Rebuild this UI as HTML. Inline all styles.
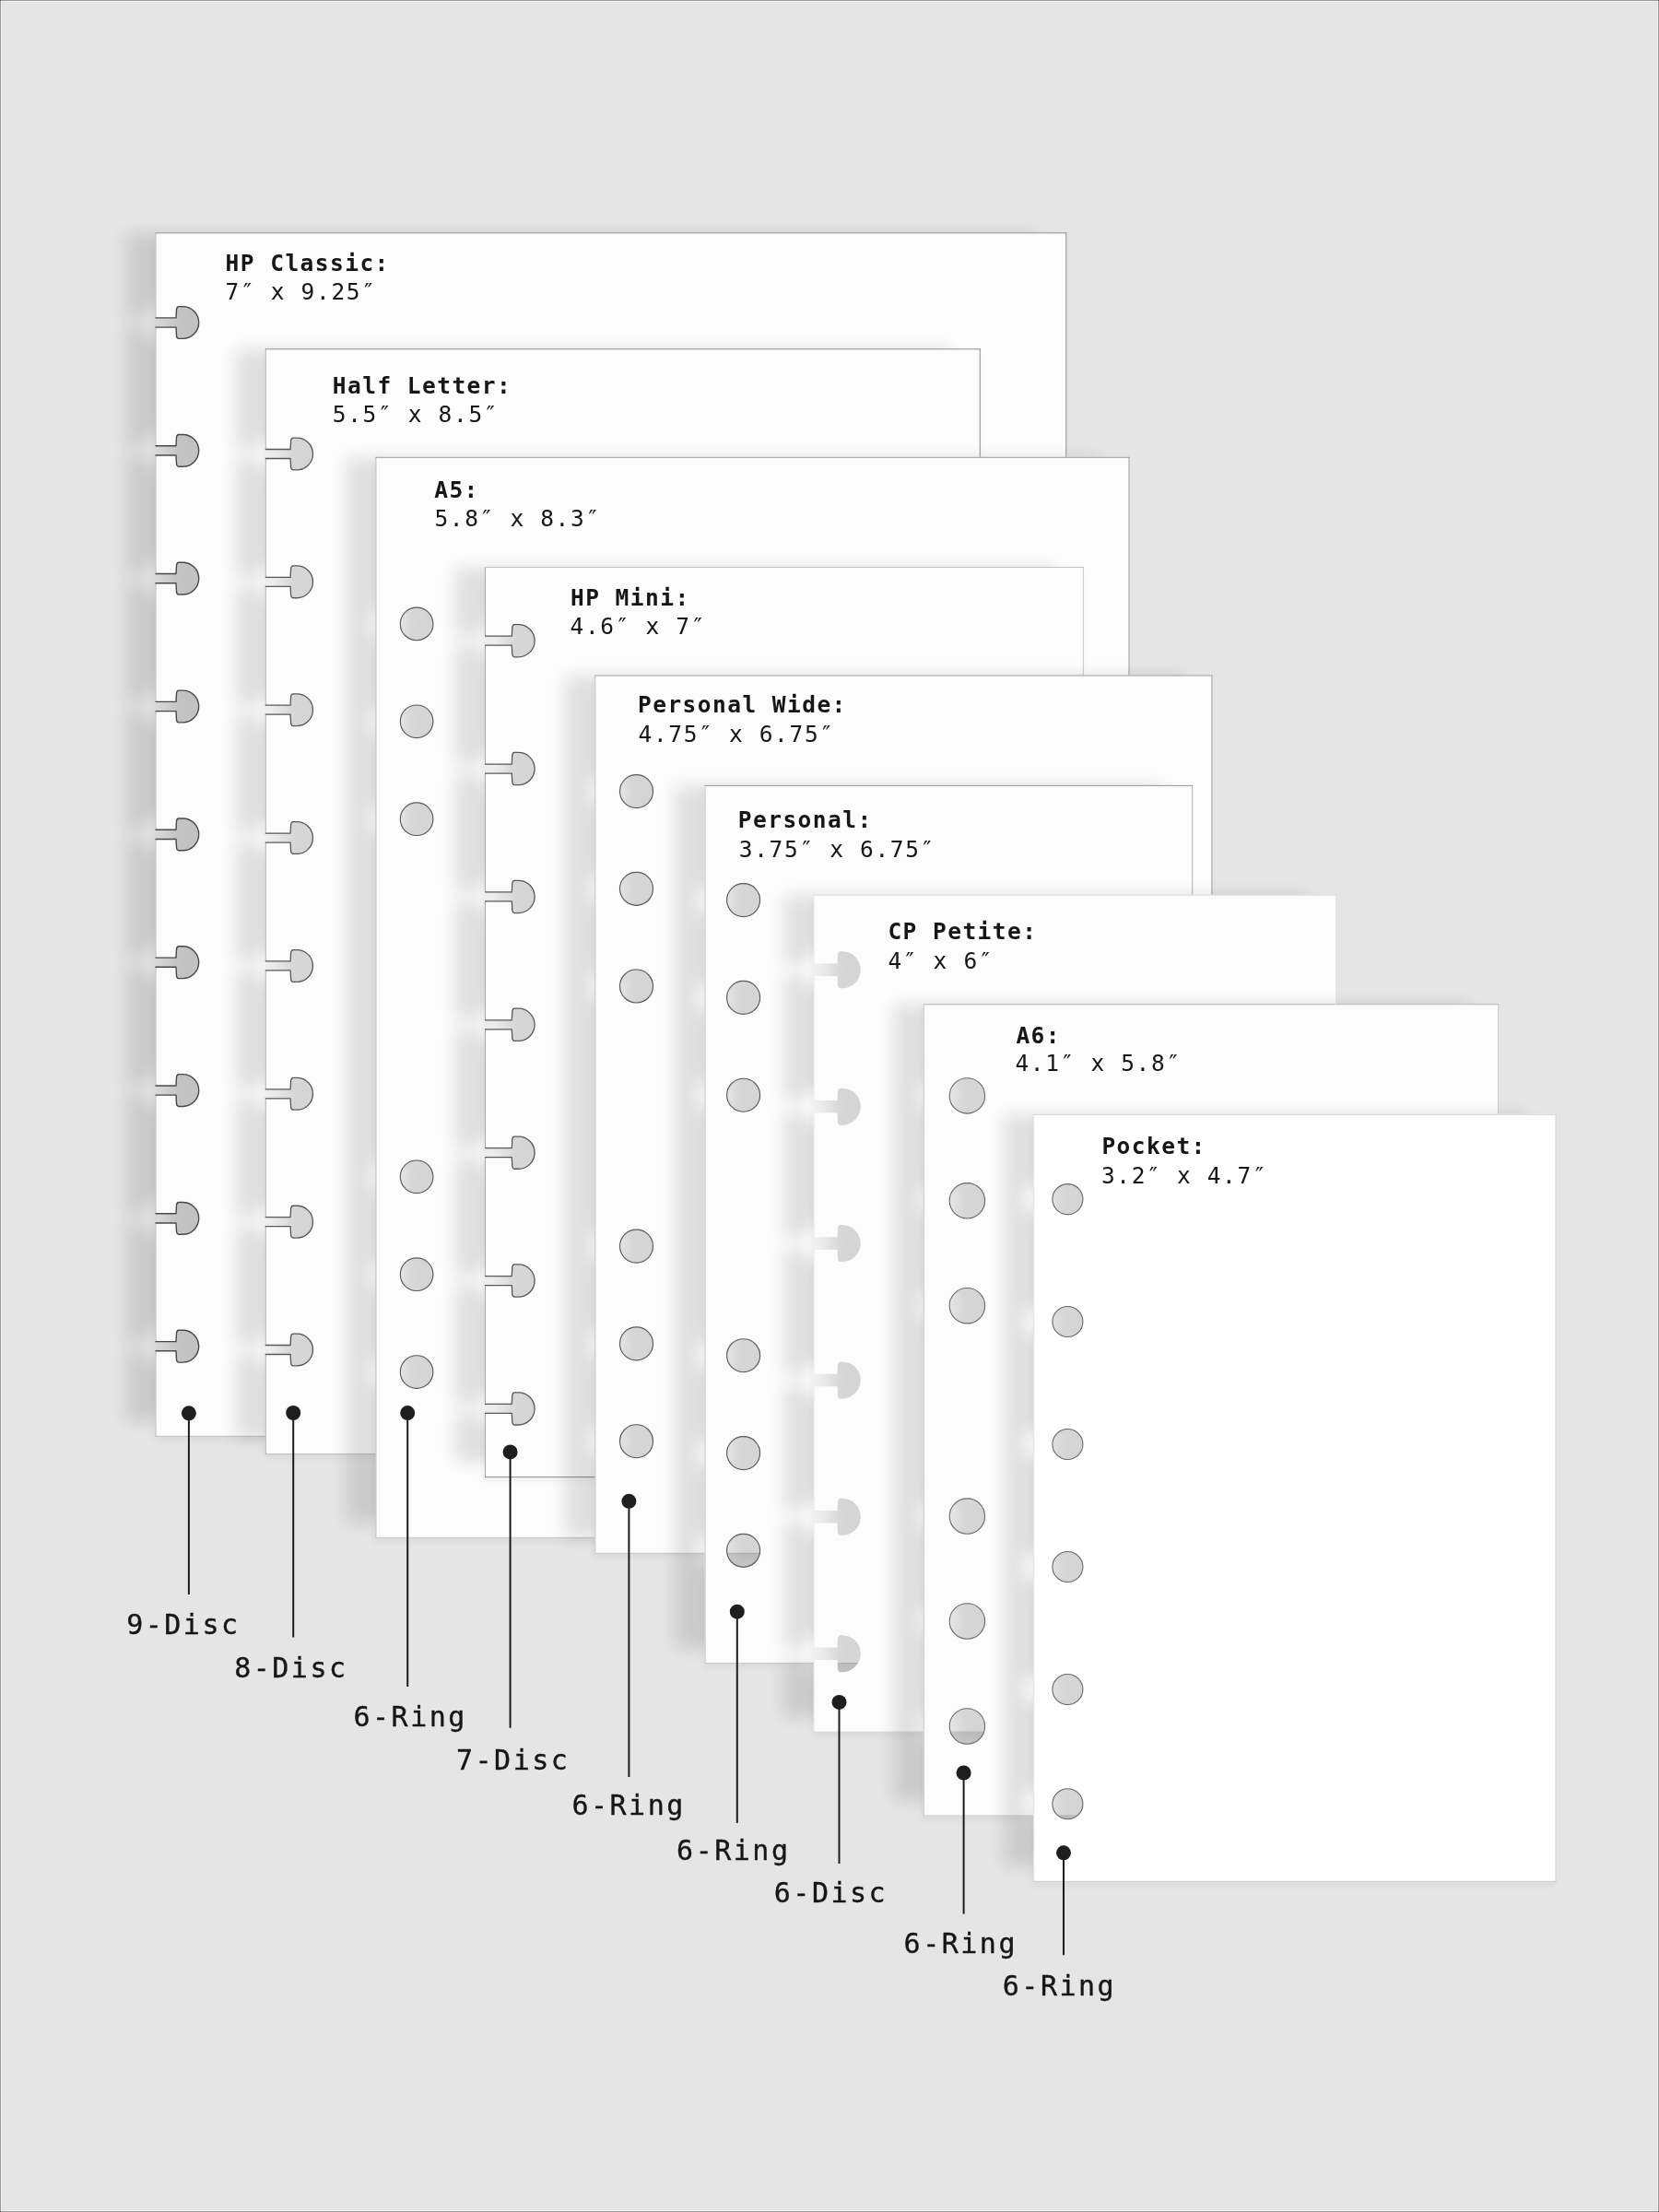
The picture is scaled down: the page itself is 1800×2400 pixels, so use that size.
<!DOCTYPE html>
<html lang="en"><head><meta charset="utf-8"><title>Planner insert sizes</title>
<style>
html,body{margin:0;padding:0;background:#e5e5e5;}
body{width:1800px;height:2400px;overflow:hidden;position:relative;}
svg{position:absolute;left:0;top:0;display:block;will-change:transform;}
text{font-family:'DejaVu Sans Mono','Liberation Mono',monospace;fill:#161616;white-space:pre;}
.t{font-size:24.5px;letter-spacing:1.65px;}
.b{font-weight:bold;letter-spacing:1.45px;}
.l{font-size:30px;letter-spacing:2.5px;stroke:#161616;stroke-width:0.35px;}
</style></head><body>
<svg width="1800" height="2400" viewBox="0 0 1800 2400" role="img" aria-label="Planner insert page sizes and punch patterns">
<defs>
<filter id="sh" filterUnits="userSpaceOnUse" x="0" y="0" width="1800" height="2400"><feGaussianBlur stdDeviation="9"/></filter>
<filter id="am" filterUnits="userSpaceOnUse" x="0" y="0" width="1800" height="2400"><feGaussianBlur stdDeviation="3.5"/></filter>
</defs>
<rect x="0" y="0" width="1800" height="2400" fill="#e5e5e5"/>
<g id="sheet1">
<rect x="166.5" y="254.3" width="988.8" height="1309" fill="#000" opacity="0.04" filter="url(#am)"/>
<path d="M1157.3 253.3 L168.5 253.3 L168.5 344.9 L191 344.9 L191.5 335.6 Q191.8 332.9 193.9 332.6 L198.3 332.6 A17.4 17.4 0 0 1 198.3 367.4 L193.9 367.4 Q191.8 367.1 191.5 364.4 L191 355.1 L168.5 355.1 L168.5 483.74 L191 483.74 L191.5 474.44 Q191.8 471.74 193.9 471.44 L198.3 471.44 A17.4 17.4 0 0 1 198.3 506.24 L193.9 506.24 Q191.8 505.94 191.5 503.24 L191 493.94 L168.5 493.94 L168.5 622.57 L191 622.57 L191.5 613.27 Q191.8 610.57 193.9 610.27 L198.3 610.27 A17.4 17.4 0 0 1 198.3 645.07 L193.9 645.07 Q191.8 644.77 191.5 642.07 L191 632.77 L168.5 632.77 L168.5 761.41 L191 761.41 L191.5 752.11 Q191.8 749.41 193.9 749.11 L198.3 749.11 A17.4 17.4 0 0 1 198.3 783.91 L193.9 783.91 Q191.8 783.61 191.5 780.91 L191 771.61 L168.5 771.61 L168.5 900.25 L191 900.25 L191.5 890.95 Q191.8 888.25 193.9 887.95 L198.3 887.95 A17.4 17.4 0 0 1 198.3 922.75 L193.9 922.75 Q191.8 922.45 191.5 919.75 L191 910.45 L168.5 910.45 L168.5 1039.09 L191 1039.09 L191.5 1029.79 Q191.8 1027.09 193.9 1026.79 L198.3 1026.79 A17.4 17.4 0 0 1 198.3 1061.59 L193.9 1061.59 Q191.8 1061.29 191.5 1058.59 L191 1049.29 L168.5 1049.29 L168.5 1177.93 L191 1177.93 L191.5 1168.62 Q191.8 1165.92 193.9 1165.62 L198.3 1165.62 A17.4 17.4 0 0 1 198.3 1200.43 L193.9 1200.43 Q191.8 1200.13 191.5 1197.43 L191 1188.12 L168.5 1188.12 L168.5 1316.76 L191 1316.76 L191.5 1307.46 Q191.8 1304.76 193.9 1304.46 L198.3 1304.46 A17.4 17.4 0 0 1 198.3 1339.26 L193.9 1339.26 Q191.8 1338.96 191.5 1336.26 L191 1326.96 L168.5 1326.96 L168.5 1455.6 L191 1455.6 L191.5 1446.3 Q191.8 1443.6 193.9 1443.3 L198.3 1443.3 A17.4 17.4 0 0 1 198.3 1478.1 L193.9 1478.1 Q191.8 1477.8 191.5 1475.1 L191 1465.8 L168.5 1465.8 L168.5 1541.8 L1157.3 1541.8 Z" transform="translate(-32 0)" fill="#000" fill-rule="evenodd" opacity="0.11" filter="url(#sh)"/>
<path d="M1157.3 252.3 L168.5 252.3 L168.5 344.9 L191 344.9 L191.5 335.6 Q191.8 332.9 193.9 332.6 L198.3 332.6 A17.4 17.4 0 0 1 198.3 367.4 L193.9 367.4 Q191.8 367.1 191.5 364.4 L191 355.1 L168.5 355.1 L168.5 483.74 L191 483.74 L191.5 474.44 Q191.8 471.74 193.9 471.44 L198.3 471.44 A17.4 17.4 0 0 1 198.3 506.24 L193.9 506.24 Q191.8 505.94 191.5 503.24 L191 493.94 L168.5 493.94 L168.5 622.57 L191 622.57 L191.5 613.27 Q191.8 610.57 193.9 610.27 L198.3 610.27 A17.4 17.4 0 0 1 198.3 645.07 L193.9 645.07 Q191.8 644.77 191.5 642.07 L191 632.77 L168.5 632.77 L168.5 761.41 L191 761.41 L191.5 752.11 Q191.8 749.41 193.9 749.11 L198.3 749.11 A17.4 17.4 0 0 1 198.3 783.91 L193.9 783.91 Q191.8 783.61 191.5 780.91 L191 771.61 L168.5 771.61 L168.5 900.25 L191 900.25 L191.5 890.95 Q191.8 888.25 193.9 887.95 L198.3 887.95 A17.4 17.4 0 0 1 198.3 922.75 L193.9 922.75 Q191.8 922.45 191.5 919.75 L191 910.45 L168.5 910.45 L168.5 1039.09 L191 1039.09 L191.5 1029.79 Q191.8 1027.09 193.9 1026.79 L198.3 1026.79 A17.4 17.4 0 0 1 198.3 1061.59 L193.9 1061.59 Q191.8 1061.29 191.5 1058.59 L191 1049.29 L168.5 1049.29 L168.5 1177.93 L191 1177.93 L191.5 1168.62 Q191.8 1165.92 193.9 1165.62 L198.3 1165.62 A17.4 17.4 0 0 1 198.3 1200.43 L193.9 1200.43 Q191.8 1200.13 191.5 1197.43 L191 1188.12 L168.5 1188.12 L168.5 1316.76 L191 1316.76 L191.5 1307.46 Q191.8 1304.76 193.9 1304.46 L198.3 1304.46 A17.4 17.4 0 0 1 198.3 1339.26 L193.9 1339.26 Q191.8 1338.96 191.5 1336.26 L191 1326.96 L168.5 1326.96 L168.5 1455.6 L191 1455.6 L191.5 1446.3 Q191.8 1443.6 193.9 1443.3 L198.3 1443.3 A17.4 17.4 0 0 1 198.3 1478.1 L193.9 1478.1 Q191.8 1477.8 191.5 1475.1 L191 1465.8 L168.5 1465.8 L168.5 1558.8 L1157.3 1558.8 Z" fill="#fcfcfc" fill-rule="evenodd"/>
<path d="M169 252.3 V344.9 M169 355.1 V483.74 M169 493.94 V622.57 M169 632.77 V761.41 M169 771.61 V900.25 M169 910.45 V1039.09 M169 1049.29 V1177.93 M169 1188.12 V1316.76 M169 1326.96 V1455.6 M169 1465.8 V1558.8" fill="none" stroke="#b4b4b4" stroke-width="1"/>
<path d="M168.5 1558.3 H1157.3" fill="none" stroke="#bdbdbd" stroke-width="1"/>
<path d="M1156.8 252.3 V1558.8" fill="none" stroke="#8e8e8e" stroke-width="1"/>
<path d="M168.5 252.8 H1157.3" fill="none" stroke="#8e8e8e" stroke-width="1"/>
<path d="M168.5 344.9 L191 344.9 L191.5 335.6 Q191.8 332.9 193.9 332.6 L198.3 332.6 A17.4 17.4 0 0 1 198.3 367.4 L193.9 367.4 Q191.8 367.1 191.5 364.4 L191 355.1 L168.5 355.1 M168.5 483.74 L191 483.74 L191.5 474.44 Q191.8 471.74 193.9 471.44 L198.3 471.44 A17.4 17.4 0 0 1 198.3 506.24 L193.9 506.24 Q191.8 505.94 191.5 503.24 L191 493.94 L168.5 493.94 M168.5 622.57 L191 622.57 L191.5 613.27 Q191.8 610.57 193.9 610.27 L198.3 610.27 A17.4 17.4 0 0 1 198.3 645.07 L193.9 645.07 Q191.8 644.77 191.5 642.07 L191 632.77 L168.5 632.77 M168.5 761.41 L191 761.41 L191.5 752.11 Q191.8 749.41 193.9 749.11 L198.3 749.11 A17.4 17.4 0 0 1 198.3 783.91 L193.9 783.91 Q191.8 783.61 191.5 780.91 L191 771.61 L168.5 771.61 M168.5 900.25 L191 900.25 L191.5 890.95 Q191.8 888.25 193.9 887.95 L198.3 887.95 A17.4 17.4 0 0 1 198.3 922.75 L193.9 922.75 Q191.8 922.45 191.5 919.75 L191 910.45 L168.5 910.45 M168.5 1039.09 L191 1039.09 L191.5 1029.79 Q191.8 1027.09 193.9 1026.79 L198.3 1026.79 A17.4 17.4 0 0 1 198.3 1061.59 L193.9 1061.59 Q191.8 1061.29 191.5 1058.59 L191 1049.29 L168.5 1049.29 M168.5 1177.93 L191 1177.93 L191.5 1168.62 Q191.8 1165.92 193.9 1165.62 L198.3 1165.62 A17.4 17.4 0 0 1 198.3 1200.43 L193.9 1200.43 Q191.8 1200.13 191.5 1197.43 L191 1188.12 L168.5 1188.12 M168.5 1316.76 L191 1316.76 L191.5 1307.46 Q191.8 1304.76 193.9 1304.46 L198.3 1304.46 A17.4 17.4 0 0 1 198.3 1339.26 L193.9 1339.26 Q191.8 1338.96 191.5 1336.26 L191 1326.96 L168.5 1326.96 M168.5 1455.6 L191 1455.6 L191.5 1446.3 Q191.8 1443.6 193.9 1443.3 L198.3 1443.3 A17.4 17.4 0 0 1 198.3 1478.1 L193.9 1478.1 Q191.8 1477.8 191.5 1475.1 L191 1465.8 L168.5 1465.8 " fill="none" stroke="#484848" stroke-width="1.4" stroke-linejoin="round"/>
<text class="t b" x="244.6" y="293.5">HP Classic:</text>
<text class="t" x="244.6" y="324.7">7″ x 9.25″</text>
</g>
<g id="sheet2">
<rect x="285.8" y="380.3" width="776" height="1202.3" fill="#000" opacity="0.04" filter="url(#am)"/>
<path d="M1063.8 379.3 L287.8 379.3 L287.8 487.5 L315.1 487.5 L315.6 478.1 Q315.9 475.4 318 475.1 L322.1 475.1 A17.4 17.4 0 0 1 322.1 509.9 L318 509.9 Q315.9 509.6 315.6 506.9 L315.1 497.5 L287.8 497.5 L287.8 626.36 L315.1 626.36 L315.6 616.96 Q315.9 614.26 318 613.96 L322.1 613.96 A17.4 17.4 0 0 1 322.1 648.76 L318 648.76 Q315.9 648.46 315.6 645.76 L315.1 636.36 L287.8 636.36 L287.8 765.21 L315.1 765.21 L315.6 755.81 Q315.9 753.11 318 752.81 L322.1 752.81 A17.4 17.4 0 0 1 322.1 787.61 L318 787.61 Q315.9 787.31 315.6 784.61 L315.1 775.21 L287.8 775.21 L287.8 904.07 L315.1 904.07 L315.6 894.67 Q315.9 891.97 318 891.67 L322.1 891.67 A17.4 17.4 0 0 1 322.1 926.47 L318 926.47 Q315.9 926.17 315.6 923.47 L315.1 914.07 L287.8 914.07 L287.8 1042.93 L315.1 1042.93 L315.6 1033.53 Q315.9 1030.83 318 1030.53 L322.1 1030.53 A17.4 17.4 0 0 1 322.1 1065.33 L318 1065.33 Q315.9 1065.03 315.6 1062.33 L315.1 1052.93 L287.8 1052.93 L287.8 1181.79 L315.1 1181.79 L315.6 1172.39 Q315.9 1169.69 318 1169.39 L322.1 1169.39 A17.4 17.4 0 0 1 322.1 1204.19 L318 1204.19 Q315.9 1203.89 315.6 1201.19 L315.1 1191.79 L287.8 1191.79 L287.8 1320.64 L315.1 1320.64 L315.6 1311.24 Q315.9 1308.54 318 1308.24 L322.1 1308.24 A17.4 17.4 0 0 1 322.1 1343.04 L318 1343.04 Q315.9 1342.74 315.6 1340.04 L315.1 1330.64 L287.8 1330.64 L287.8 1459.5 L315.1 1459.5 L315.6 1450.1 Q315.9 1447.4 318 1447.1 L322.1 1447.1 A17.4 17.4 0 0 1 322.1 1481.9 L318 1481.9 Q315.9 1481.6 315.6 1478.9 L315.1 1469.5 L287.8 1469.5 L287.8 1561.1 L1063.8 1561.1 Z" transform="translate(-32 0)" fill="#000" fill-rule="evenodd" opacity="0.11" filter="url(#sh)"/>
<path d="M1063.8 378.3 L287.8 378.3 L287.8 487.5 L315.1 487.5 L315.6 478.1 Q315.9 475.4 318 475.1 L322.1 475.1 A17.4 17.4 0 0 1 322.1 509.9 L318 509.9 Q315.9 509.6 315.6 506.9 L315.1 497.5 L287.8 497.5 L287.8 626.36 L315.1 626.36 L315.6 616.96 Q315.9 614.26 318 613.96 L322.1 613.96 A17.4 17.4 0 0 1 322.1 648.76 L318 648.76 Q315.9 648.46 315.6 645.76 L315.1 636.36 L287.8 636.36 L287.8 765.21 L315.1 765.21 L315.6 755.81 Q315.9 753.11 318 752.81 L322.1 752.81 A17.4 17.4 0 0 1 322.1 787.61 L318 787.61 Q315.9 787.31 315.6 784.61 L315.1 775.21 L287.8 775.21 L287.8 904.07 L315.1 904.07 L315.6 894.67 Q315.9 891.97 318 891.67 L322.1 891.67 A17.4 17.4 0 0 1 322.1 926.47 L318 926.47 Q315.9 926.17 315.6 923.47 L315.1 914.07 L287.8 914.07 L287.8 1042.93 L315.1 1042.93 L315.6 1033.53 Q315.9 1030.83 318 1030.53 L322.1 1030.53 A17.4 17.4 0 0 1 322.1 1065.33 L318 1065.33 Q315.9 1065.03 315.6 1062.33 L315.1 1052.93 L287.8 1052.93 L287.8 1181.79 L315.1 1181.79 L315.6 1172.39 Q315.9 1169.69 318 1169.39 L322.1 1169.39 A17.4 17.4 0 0 1 322.1 1204.19 L318 1204.19 Q315.9 1203.89 315.6 1201.19 L315.1 1191.79 L287.8 1191.79 L287.8 1320.64 L315.1 1320.64 L315.6 1311.24 Q315.9 1308.54 318 1308.24 L322.1 1308.24 A17.4 17.4 0 0 1 322.1 1343.04 L318 1343.04 Q315.9 1342.74 315.6 1340.04 L315.1 1330.64 L287.8 1330.64 L287.8 1459.5 L315.1 1459.5 L315.6 1450.1 Q315.9 1447.4 318 1447.1 L322.1 1447.1 A17.4 17.4 0 0 1 322.1 1481.9 L318 1481.9 Q315.9 1481.6 315.6 1478.9 L315.1 1469.5 L287.8 1469.5 L287.8 1578.1 L1063.8 1578.1 Z" fill="#fcfcfc" fill-rule="evenodd"/>
<path d="M288.3 378.3 V487.5 M288.3 497.5 V626.36 M288.3 636.36 V765.21 M288.3 775.21 V904.07 M288.3 914.07 V1042.93 M288.3 1052.93 V1181.79 M288.3 1191.79 V1320.64 M288.3 1330.64 V1459.5 M288.3 1469.5 V1578.1" fill="none" stroke="#b0b0b0" stroke-width="1"/>
<path d="M287.8 1577.6 H1063.8" fill="none" stroke="#bdbdbd" stroke-width="1"/>
<path d="M1063.3 378.3 V1578.1" fill="none" stroke="#8e8e8e" stroke-width="1"/>
<path d="M287.8 378.8 H1063.8" fill="none" stroke="#8e8e8e" stroke-width="1"/>
<path d="M287.8 487.5 L315.1 487.5 L315.6 478.1 Q315.9 475.4 318 475.1 L322.1 475.1 A17.4 17.4 0 0 1 322.1 509.9 L318 509.9 Q315.9 509.6 315.6 506.9 L315.1 497.5 L287.8 497.5 M287.8 626.36 L315.1 626.36 L315.6 616.96 Q315.9 614.26 318 613.96 L322.1 613.96 A17.4 17.4 0 0 1 322.1 648.76 L318 648.76 Q315.9 648.46 315.6 645.76 L315.1 636.36 L287.8 636.36 M287.8 765.21 L315.1 765.21 L315.6 755.81 Q315.9 753.11 318 752.81 L322.1 752.81 A17.4 17.4 0 0 1 322.1 787.61 L318 787.61 Q315.9 787.31 315.6 784.61 L315.1 775.21 L287.8 775.21 M287.8 904.07 L315.1 904.07 L315.6 894.67 Q315.9 891.97 318 891.67 L322.1 891.67 A17.4 17.4 0 0 1 322.1 926.47 L318 926.47 Q315.9 926.17 315.6 923.47 L315.1 914.07 L287.8 914.07 M287.8 1042.93 L315.1 1042.93 L315.6 1033.53 Q315.9 1030.83 318 1030.53 L322.1 1030.53 A17.4 17.4 0 0 1 322.1 1065.33 L318 1065.33 Q315.9 1065.03 315.6 1062.33 L315.1 1052.93 L287.8 1052.93 M287.8 1181.79 L315.1 1181.79 L315.6 1172.39 Q315.9 1169.69 318 1169.39 L322.1 1169.39 A17.4 17.4 0 0 1 322.1 1204.19 L318 1204.19 Q315.9 1203.89 315.6 1201.19 L315.1 1191.79 L287.8 1191.79 M287.8 1320.64 L315.1 1320.64 L315.6 1311.24 Q315.9 1308.54 318 1308.24 L322.1 1308.24 A17.4 17.4 0 0 1 322.1 1343.04 L318 1343.04 Q315.9 1342.74 315.6 1340.04 L315.1 1330.64 L287.8 1330.64 M287.8 1459.5 L315.1 1459.5 L315.6 1450.1 Q315.9 1447.4 318 1447.1 L322.1 1447.1 A17.4 17.4 0 0 1 322.1 1481.9 L318 1481.9 Q315.9 1481.6 315.6 1478.9 L315.1 1469.5 L287.8 1469.5 " fill="none" stroke="#585858" stroke-width="1.3" stroke-linejoin="round"/>
<text class="t b" x="360.8" y="426.6">Half Letter:</text>
<text class="t" x="360.8" y="458.2">5.5″ x 8.5″</text>
</g>
<g id="sheet3">
<rect x="405.4" y="497.8" width="818.1" height="1175.5" fill="#000" opacity="0.04" filter="url(#am)"/>
<path d="M407.4 496.8 L1225.5 496.8 L1225.5 1651.8 L407.4 1651.8 Z M434.3 676.9 A17.8 17.8 0 1 0 469.9 676.9 A17.8 17.8 0 1 0 434.3 676.9 Z M434.3 782.8 A17.8 17.8 0 1 0 469.9 782.8 A17.8 17.8 0 1 0 434.3 782.8 Z M434.3 888.7 A17.8 17.8 0 1 0 469.9 888.7 A17.8 17.8 0 1 0 434.3 888.7 Z M434.3 1276.8 A17.8 17.8 0 1 0 469.9 1276.8 A17.8 17.8 0 1 0 434.3 1276.8 Z M434.3 1382.7 A17.8 17.8 0 1 0 469.9 1382.7 A17.8 17.8 0 1 0 434.3 1382.7 Z M434.3 1488.6 A17.8 17.8 0 1 0 469.9 1488.6 A17.8 17.8 0 1 0 434.3 1488.6 Z " transform="translate(-32 0)" fill="#000" fill-rule="evenodd" opacity="0.11" filter="url(#sh)"/>
<path d="M407.4 495.8 L1225.5 495.8 L1225.5 1668.8 L407.4 1668.8 Z M434.3 676.9 A17.8 17.8 0 1 0 469.9 676.9 A17.8 17.8 0 1 0 434.3 676.9 Z M434.3 782.8 A17.8 17.8 0 1 0 469.9 782.8 A17.8 17.8 0 1 0 434.3 782.8 Z M434.3 888.7 A17.8 17.8 0 1 0 469.9 888.7 A17.8 17.8 0 1 0 434.3 888.7 Z M434.3 1276.8 A17.8 17.8 0 1 0 469.9 1276.8 A17.8 17.8 0 1 0 434.3 1276.8 Z M434.3 1382.7 A17.8 17.8 0 1 0 469.9 1382.7 A17.8 17.8 0 1 0 434.3 1382.7 Z M434.3 1488.6 A17.8 17.8 0 1 0 469.9 1488.6 A17.8 17.8 0 1 0 434.3 1488.6 Z " fill="#fcfcfc" fill-rule="evenodd"/>
<path d="M407.9 495.8 V1668.8" fill="none" stroke="#b8b8b8" stroke-width="1"/>
<path d="M407.4 1668.3 H1225.5" fill="none" stroke="#c4c4c4" stroke-width="1"/>
<path d="M1225 495.8 V1668.8" fill="none" stroke="#9a9a9a" stroke-width="1"/>
<path d="M407.4 496.3 H1225.5" fill="none" stroke="#9a9a9a" stroke-width="1"/>
<path d="M434.3 676.9 A17.8 17.8 0 1 0 469.9 676.9 A17.8 17.8 0 1 0 434.3 676.9 Z M434.3 782.8 A17.8 17.8 0 1 0 469.9 782.8 A17.8 17.8 0 1 0 434.3 782.8 Z M434.3 888.7 A17.8 17.8 0 1 0 469.9 888.7 A17.8 17.8 0 1 0 434.3 888.7 Z M434.3 1276.8 A17.8 17.8 0 1 0 469.9 1276.8 A17.8 17.8 0 1 0 434.3 1276.8 Z M434.3 1382.7 A17.8 17.8 0 1 0 469.9 1382.7 A17.8 17.8 0 1 0 434.3 1382.7 Z M434.3 1488.6 A17.8 17.8 0 1 0 469.9 1488.6 A17.8 17.8 0 1 0 434.3 1488.6 Z " fill="none" stroke="#5a5a5a" stroke-width="1.15" stroke-linejoin="round"/>
<text class="t b" x="471.2" y="539.5">A5:</text>
<text class="t" x="471.4" y="571.3">5.8″ x 8.3″</text>
</g>
<g id="sheet4">
<rect x="524" y="617" width="649.8" height="990.6" fill="#000" opacity="0.04" filter="url(#am)"/>
<path d="M1175.8 616 L526 616 L526 690.2 L555.3 690.2 L555.8 680.6 Q556.1 677.9 558.2 677.6 L562.5 677.6 A17.6 17.6 0 0 1 562.5 712.8 L558.2 712.8 Q556.1 712.5 555.8 709.8 L555.3 700.2 L526 700.2 L526 829.07 L555.3 829.07 L555.8 819.47 Q556.1 816.77 558.2 816.47 L562.5 816.47 A17.6 17.6 0 0 1 562.5 851.67 L558.2 851.67 Q556.1 851.37 555.8 848.67 L555.3 839.07 L526 839.07 L526 967.93 L555.3 967.93 L555.8 958.33 Q556.1 955.63 558.2 955.33 L562.5 955.33 A17.6 17.6 0 0 1 562.5 990.53 L558.2 990.53 Q556.1 990.23 555.8 987.53 L555.3 977.93 L526 977.93 L526 1106.8 L555.3 1106.8 L555.8 1097.2 Q556.1 1094.5 558.2 1094.2 L562.5 1094.2 A17.6 17.6 0 0 1 562.5 1129.4 L558.2 1129.4 Q556.1 1129.1 555.8 1126.4 L555.3 1116.8 L526 1116.8 L526 1245.67 L555.3 1245.67 L555.8 1236.07 Q556.1 1233.37 558.2 1233.07 L562.5 1233.07 A17.6 17.6 0 0 1 562.5 1268.27 L558.2 1268.27 Q556.1 1267.97 555.8 1265.27 L555.3 1255.67 L526 1255.67 L526 1384.53 L555.3 1384.53 L555.8 1374.93 Q556.1 1372.23 558.2 1371.93 L562.5 1371.93 A17.6 17.6 0 0 1 562.5 1407.13 L558.2 1407.13 Q556.1 1406.83 555.8 1404.13 L555.3 1394.53 L526 1394.53 L526 1523.4 L555.3 1523.4 L555.8 1513.8 Q556.1 1511.1 558.2 1510.8 L562.5 1510.8 A17.6 17.6 0 0 1 562.5 1546 L558.2 1546 Q556.1 1545.7 555.8 1543 L555.3 1533.4 L526 1533.4 L526 1586.1 L1175.8 1586.1 Z" transform="translate(-32 0)" fill="#000" fill-rule="evenodd" opacity="0.11" filter="url(#sh)"/>
<path d="M1175.8 615 L526 615 L526 690.2 L555.3 690.2 L555.8 680.6 Q556.1 677.9 558.2 677.6 L562.5 677.6 A17.6 17.6 0 0 1 562.5 712.8 L558.2 712.8 Q556.1 712.5 555.8 709.8 L555.3 700.2 L526 700.2 L526 829.07 L555.3 829.07 L555.8 819.47 Q556.1 816.77 558.2 816.47 L562.5 816.47 A17.6 17.6 0 0 1 562.5 851.67 L558.2 851.67 Q556.1 851.37 555.8 848.67 L555.3 839.07 L526 839.07 L526 967.93 L555.3 967.93 L555.8 958.33 Q556.1 955.63 558.2 955.33 L562.5 955.33 A17.6 17.6 0 0 1 562.5 990.53 L558.2 990.53 Q556.1 990.23 555.8 987.53 L555.3 977.93 L526 977.93 L526 1106.8 L555.3 1106.8 L555.8 1097.2 Q556.1 1094.5 558.2 1094.2 L562.5 1094.2 A17.6 17.6 0 0 1 562.5 1129.4 L558.2 1129.4 Q556.1 1129.1 555.8 1126.4 L555.3 1116.8 L526 1116.8 L526 1245.67 L555.3 1245.67 L555.8 1236.07 Q556.1 1233.37 558.2 1233.07 L562.5 1233.07 A17.6 17.6 0 0 1 562.5 1268.27 L558.2 1268.27 Q556.1 1267.97 555.8 1265.27 L555.3 1255.67 L526 1255.67 L526 1384.53 L555.3 1384.53 L555.8 1374.93 Q556.1 1372.23 558.2 1371.93 L562.5 1371.93 A17.6 17.6 0 0 1 562.5 1407.13 L558.2 1407.13 Q556.1 1406.83 555.8 1404.13 L555.3 1394.53 L526 1394.53 L526 1523.4 L555.3 1523.4 L555.8 1513.8 Q556.1 1511.1 558.2 1510.8 L562.5 1510.8 A17.6 17.6 0 0 1 562.5 1546 L558.2 1546 Q556.1 1545.7 555.8 1543 L555.3 1533.4 L526 1533.4 L526 1603.1 L1175.8 1603.1 Z" fill="#fcfcfc" fill-rule="evenodd"/>
<path d="M526.5 615 V690.2 M526.5 700.2 V829.07 M526.5 839.07 V967.93 M526.5 977.93 V1106.8 M526.5 1116.8 V1245.67 M526.5 1255.67 V1384.53 M526.5 1394.53 V1523.4 M526.5 1533.4 V1603.1" fill="none" stroke="#a8a8a8" stroke-width="1"/>
<path d="M526 1602.6 H1175.8" fill="none" stroke="#8c8c8c" stroke-width="1"/>
<path d="M1175.3 615 V1603.1" fill="none" stroke="#c8c8c8" stroke-width="1"/>
<path d="M526 615.5 H1175.8" fill="none" stroke="#c4c4c4" stroke-width="1"/>
<path d="M526 690.2 L555.3 690.2 L555.8 680.6 Q556.1 677.9 558.2 677.6 L562.5 677.6 A17.6 17.6 0 0 1 562.5 712.8 L558.2 712.8 Q556.1 712.5 555.8 709.8 L555.3 700.2 L526 700.2 M526 829.07 L555.3 829.07 L555.8 819.47 Q556.1 816.77 558.2 816.47 L562.5 816.47 A17.6 17.6 0 0 1 562.5 851.67 L558.2 851.67 Q556.1 851.37 555.8 848.67 L555.3 839.07 L526 839.07 M526 967.93 L555.3 967.93 L555.8 958.33 Q556.1 955.63 558.2 955.33 L562.5 955.33 A17.6 17.6 0 0 1 562.5 990.53 L558.2 990.53 Q556.1 990.23 555.8 987.53 L555.3 977.93 L526 977.93 M526 1106.8 L555.3 1106.8 L555.8 1097.2 Q556.1 1094.5 558.2 1094.2 L562.5 1094.2 A17.6 17.6 0 0 1 562.5 1129.4 L558.2 1129.4 Q556.1 1129.1 555.8 1126.4 L555.3 1116.8 L526 1116.8 M526 1245.67 L555.3 1245.67 L555.8 1236.07 Q556.1 1233.37 558.2 1233.07 L562.5 1233.07 A17.6 17.6 0 0 1 562.5 1268.27 L558.2 1268.27 Q556.1 1267.97 555.8 1265.27 L555.3 1255.67 L526 1255.67 M526 1384.53 L555.3 1384.53 L555.8 1374.93 Q556.1 1372.23 558.2 1371.93 L562.5 1371.93 A17.6 17.6 0 0 1 562.5 1407.13 L558.2 1407.13 Q556.1 1406.83 555.8 1404.13 L555.3 1394.53 L526 1394.53 M526 1523.4 L555.3 1523.4 L555.8 1513.8 Q556.1 1511.1 558.2 1510.8 L562.5 1510.8 A17.6 17.6 0 0 1 562.5 1546 L558.2 1546 Q556.1 1545.7 555.8 1543 L555.3 1533.4 L526 1533.4 " fill="none" stroke="#585858" stroke-width="1.3" stroke-linejoin="round"/>
<text class="t b" x="619" y="656.6">HP Mini:</text>
<text class="t" x="618.5" y="688.2">4.6″ x 7″</text>
</g>
<g id="sheet5">
<rect x="643.3" y="734.5" width="670.1" height="955.8" fill="#000" opacity="0.04" filter="url(#am)"/>
<path d="M645.3 733.5 L1315.4 733.5 L1315.4 1668.8 L645.3 1668.8 Z M672.5 858.6 A18 18 0 1 0 708.5 858.6 A18 18 0 1 0 672.5 858.6 Z M672.5 964.3 A18 18 0 1 0 708.5 964.3 A18 18 0 1 0 672.5 964.3 Z M672.5 1070 A18 18 0 1 0 708.5 1070 A18 18 0 1 0 672.5 1070 Z M672.5 1352.1 A18 18 0 1 0 708.5 1352.1 A18 18 0 1 0 672.5 1352.1 Z M672.5 1457.9 A18 18 0 1 0 708.5 1457.9 A18 18 0 1 0 672.5 1457.9 Z M672.5 1563.7 A18 18 0 1 0 708.5 1563.7 A18 18 0 1 0 672.5 1563.7 Z " transform="translate(-32 0)" fill="#000" fill-rule="evenodd" opacity="0.11" filter="url(#sh)"/>
<path d="M645.3 732.5 L1315.4 732.5 L1315.4 1685.8 L645.3 1685.8 Z M672.5 858.6 A18 18 0 1 0 708.5 858.6 A18 18 0 1 0 672.5 858.6 Z M672.5 964.3 A18 18 0 1 0 708.5 964.3 A18 18 0 1 0 672.5 964.3 Z M672.5 1070 A18 18 0 1 0 708.5 1070 A18 18 0 1 0 672.5 1070 Z M672.5 1352.1 A18 18 0 1 0 708.5 1352.1 A18 18 0 1 0 672.5 1352.1 Z M672.5 1457.9 A18 18 0 1 0 708.5 1457.9 A18 18 0 1 0 672.5 1457.9 Z M672.5 1563.7 A18 18 0 1 0 708.5 1563.7 A18 18 0 1 0 672.5 1563.7 Z " fill="#fcfcfc" fill-rule="evenodd"/>
<path d="M645.8 732.5 V1685.8" fill="none" stroke="#c0c0c0" stroke-width="1"/>
<path d="M645.3 1685.3 H1315.4" fill="none" stroke="#c4c4c4" stroke-width="1"/>
<path d="M1314.9 732.5 V1685.8" fill="none" stroke="#9a9a9a" stroke-width="1"/>
<path d="M645.3 733 H1315.4" fill="none" stroke="#9a9a9a" stroke-width="1"/>
<path d="M672.5 858.6 A18 18 0 1 0 708.5 858.6 A18 18 0 1 0 672.5 858.6 Z M672.5 964.3 A18 18 0 1 0 708.5 964.3 A18 18 0 1 0 672.5 964.3 Z M672.5 1070 A18 18 0 1 0 708.5 1070 A18 18 0 1 0 672.5 1070 Z M672.5 1352.1 A18 18 0 1 0 708.5 1352.1 A18 18 0 1 0 672.5 1352.1 Z M672.5 1457.9 A18 18 0 1 0 708.5 1457.9 A18 18 0 1 0 672.5 1457.9 Z M672.5 1563.7 A18 18 0 1 0 708.5 1563.7 A18 18 0 1 0 672.5 1563.7 Z " fill="none" stroke="#5a5a5a" stroke-width="1.15" stroke-linejoin="round"/>
<text class="t b" x="692" y="773.1">Personal Wide:</text>
<text class="t" x="692.5" y="805.2">4.75″ x 6.75″</text>
</g>
<g id="sheet6">
<rect x="762.6" y="853.9" width="529.6" height="955.7" fill="#000" opacity="0.04" filter="url(#am)"/>
<path d="M764.6 852.9 L1294.2 852.9 L1294.2 1788.1 L764.6 1788.1 Z M788.6 976.6 A18 18 0 1 0 824.6 976.6 A18 18 0 1 0 788.6 976.6 Z M788.6 1082.4 A18 18 0 1 0 824.6 1082.4 A18 18 0 1 0 788.6 1082.4 Z M788.6 1188.2 A18 18 0 1 0 824.6 1188.2 A18 18 0 1 0 788.6 1188.2 Z M788.6 1470.7 A18 18 0 1 0 824.6 1470.7 A18 18 0 1 0 788.6 1470.7 Z M788.6 1576.6 A18 18 0 1 0 824.6 1576.6 A18 18 0 1 0 788.6 1576.6 Z M788.6 1682.3 A18 18 0 1 0 824.6 1682.3 A18 18 0 1 0 788.6 1682.3 Z " transform="translate(-32 0)" fill="#000" fill-rule="evenodd" opacity="0.11" filter="url(#sh)"/>
<path d="M764.6 851.9 L1294.2 851.9 L1294.2 1805.1 L764.6 1805.1 Z M788.6 976.6 A18 18 0 1 0 824.6 976.6 A18 18 0 1 0 788.6 976.6 Z M788.6 1082.4 A18 18 0 1 0 824.6 1082.4 A18 18 0 1 0 788.6 1082.4 Z M788.6 1188.2 A18 18 0 1 0 824.6 1188.2 A18 18 0 1 0 788.6 1188.2 Z M788.6 1470.7 A18 18 0 1 0 824.6 1470.7 A18 18 0 1 0 788.6 1470.7 Z M788.6 1576.6 A18 18 0 1 0 824.6 1576.6 A18 18 0 1 0 788.6 1576.6 Z M788.6 1682.3 A18 18 0 1 0 824.6 1682.3 A18 18 0 1 0 788.6 1682.3 Z " fill="#fcfcfc" fill-rule="evenodd"/>
<path d="M765.1 851.9 V1805.1" fill="none" stroke="#c4c4c4" stroke-width="1"/>
<path d="M764.6 1804.6 H1294.2" fill="none" stroke="#c8c8c8" stroke-width="1"/>
<path d="M1293.7 851.9 V1805.1" fill="none" stroke="#b4b4b4" stroke-width="1"/>
<path d="M764.6 852.4 H1294.2" fill="none" stroke="#9a9a9a" stroke-width="1"/>
<path d="M788.6 976.6 A18 18 0 1 0 824.6 976.6 A18 18 0 1 0 788.6 976.6 Z M788.6 1082.4 A18 18 0 1 0 824.6 1082.4 A18 18 0 1 0 788.6 1082.4 Z M788.6 1188.2 A18 18 0 1 0 824.6 1188.2 A18 18 0 1 0 788.6 1188.2 Z M788.6 1470.7 A18 18 0 1 0 824.6 1470.7 A18 18 0 1 0 788.6 1470.7 Z M788.6 1576.6 A18 18 0 1 0 824.6 1576.6 A18 18 0 1 0 788.6 1576.6 Z M788.6 1682.3 A18 18 0 1 0 824.6 1682.3 A18 18 0 1 0 788.6 1682.3 Z " fill="none" stroke="#5a5a5a" stroke-width="1.15" stroke-linejoin="round"/>
<text class="t b" x="800.8" y="898.1">Personal:</text>
<text class="t" x="801.8" y="929.9">3.75″ x 6.75″</text>
</g>
<g id="sheet7">
<rect x="880.8" y="972.7" width="567.4" height="911.5" fill="#000" opacity="0.04" filter="url(#am)"/>
<path d="M1450.2 971.7 L882.8 971.7 L882.8 1045.6 L908.5 1045.6 L909 1035.3 Q909.3 1032.6 911.4 1032.3 L913.8 1032.3 A20 20 0 0 1 913.8 1072.3 L911.4 1072.3 Q909.3 1072 909 1069.3 L908.5 1059 L882.8 1059 L882.8 1193.98 L908.5 1193.98 L909 1183.68 Q909.3 1180.98 911.4 1180.68 L913.8 1180.68 A20 20 0 0 1 913.8 1220.68 L911.4 1220.68 Q909.3 1220.38 909 1217.68 L908.5 1207.38 L882.8 1207.38 L882.8 1342.36 L908.5 1342.36 L909 1332.06 Q909.3 1329.36 911.4 1329.06 L913.8 1329.06 A20 20 0 0 1 913.8 1369.06 L911.4 1369.06 Q909.3 1368.76 909 1366.06 L908.5 1355.76 L882.8 1355.76 L882.8 1490.74 L908.5 1490.74 L909 1480.44 Q909.3 1477.74 911.4 1477.44 L913.8 1477.44 A20 20 0 0 1 913.8 1517.44 L911.4 1517.44 Q909.3 1517.14 909 1514.44 L908.5 1504.14 L882.8 1504.14 L882.8 1639.12 L908.5 1639.12 L909 1628.82 Q909.3 1626.12 911.4 1625.82 L913.8 1625.82 A20 20 0 0 1 913.8 1665.82 L911.4 1665.82 Q909.3 1665.52 909 1662.82 L908.5 1652.52 L882.8 1652.52 L882.8 1787.5 L908.5 1787.5 L909 1777.2 Q909.3 1774.5 911.4 1774.2 L913.8 1774.2 A20 20 0 0 1 913.8 1814.2 L911.4 1814.2 Q909.3 1813.9 909 1811.2 L908.5 1800.9 L882.8 1800.9 L882.8 1862.7 L1450.2 1862.7 Z" transform="translate(-32 0)" fill="#000" fill-rule="evenodd" opacity="0.11" filter="url(#sh)"/>
<path d="M1450.2 970.7 L882.8 970.7 L882.8 1045.6 L908.5 1045.6 L909 1035.3 Q909.3 1032.6 911.4 1032.3 L913.8 1032.3 A20 20 0 0 1 913.8 1072.3 L911.4 1072.3 Q909.3 1072 909 1069.3 L908.5 1059 L882.8 1059 L882.8 1193.98 L908.5 1193.98 L909 1183.68 Q909.3 1180.98 911.4 1180.68 L913.8 1180.68 A20 20 0 0 1 913.8 1220.68 L911.4 1220.68 Q909.3 1220.38 909 1217.68 L908.5 1207.38 L882.8 1207.38 L882.8 1342.36 L908.5 1342.36 L909 1332.06 Q909.3 1329.36 911.4 1329.06 L913.8 1329.06 A20 20 0 0 1 913.8 1369.06 L911.4 1369.06 Q909.3 1368.76 909 1366.06 L908.5 1355.76 L882.8 1355.76 L882.8 1490.74 L908.5 1490.74 L909 1480.44 Q909.3 1477.74 911.4 1477.44 L913.8 1477.44 A20 20 0 0 1 913.8 1517.44 L911.4 1517.44 Q909.3 1517.14 909 1514.44 L908.5 1504.14 L882.8 1504.14 L882.8 1639.12 L908.5 1639.12 L909 1628.82 Q909.3 1626.12 911.4 1625.82 L913.8 1625.82 A20 20 0 0 1 913.8 1665.82 L911.4 1665.82 Q909.3 1665.52 909 1662.82 L908.5 1652.52 L882.8 1652.52 L882.8 1787.5 L908.5 1787.5 L909 1777.2 Q909.3 1774.5 911.4 1774.2 L913.8 1774.2 A20 20 0 0 1 913.8 1814.2 L911.4 1814.2 Q909.3 1813.9 909 1811.2 L908.5 1800.9 L882.8 1800.9 L882.8 1879.7 L1450.2 1879.7 Z" fill="#fcfcfc" fill-rule="evenodd"/>
<path d="M883.3 970.7 V1045.6 M883.3 1059 V1193.98 M883.3 1207.38 V1342.36 M883.3 1355.76 V1490.74 M883.3 1504.14 V1639.12 M883.3 1652.52 V1787.5 M883.3 1800.9 V1879.7" fill="none" stroke="#ececec" stroke-width="1"/>
<path d="M882.8 1879.2 H1450.2" fill="none" stroke="#d0d0d0" stroke-width="1"/>
<path d="M1449.7 970.7 V1879.7" fill="none" stroke="#e2e2e2" stroke-width="1"/>
<path d="M882.8 971.2 H1450.2" fill="none" stroke="#dadada" stroke-width="1"/>
<text class="t b" x="963.4" y="1019.1">CP Petite:</text>
<text class="t" x="963.4" y="1050.5">4″ x 6″</text>
</g>
<g id="sheet8">
<rect x="999.8" y="1091.2" width="624.4" height="883.8" fill="#000" opacity="0.04" filter="url(#am)"/>
<path d="M1001.8 1090.2 L1626.2 1090.2 L1626.2 1953.5 L1001.8 1953.5 Z M1030.2 1188.9 A19.2 19.2 0 1 0 1068.6 1188.9 A19.2 19.2 0 1 0 1030.2 1188.9 Z M1030.2 1302.8 A19.2 19.2 0 1 0 1068.6 1302.8 A19.2 19.2 0 1 0 1030.2 1302.8 Z M1030.2 1416.7 A19.2 19.2 0 1 0 1068.6 1416.7 A19.2 19.2 0 1 0 1030.2 1416.7 Z M1030.2 1645.1 A19.2 19.2 0 1 0 1068.6 1645.1 A19.2 19.2 0 1 0 1030.2 1645.1 Z M1030.2 1759 A19.2 19.2 0 1 0 1068.6 1759 A19.2 19.2 0 1 0 1030.2 1759 Z M1030.2 1873 A19.2 19.2 0 1 0 1068.6 1873 A19.2 19.2 0 1 0 1030.2 1873 Z " transform="translate(-32 0)" fill="#000" fill-rule="evenodd" opacity="0.11" filter="url(#sh)"/>
<path d="M1001.8 1089.2 L1626.2 1089.2 L1626.2 1970.5 L1001.8 1970.5 Z M1030.2 1188.9 A19.2 19.2 0 1 0 1068.6 1188.9 A19.2 19.2 0 1 0 1030.2 1188.9 Z M1030.2 1302.8 A19.2 19.2 0 1 0 1068.6 1302.8 A19.2 19.2 0 1 0 1030.2 1302.8 Z M1030.2 1416.7 A19.2 19.2 0 1 0 1068.6 1416.7 A19.2 19.2 0 1 0 1030.2 1416.7 Z M1030.2 1645.1 A19.2 19.2 0 1 0 1068.6 1645.1 A19.2 19.2 0 1 0 1030.2 1645.1 Z M1030.2 1759 A19.2 19.2 0 1 0 1068.6 1759 A19.2 19.2 0 1 0 1030.2 1759 Z M1030.2 1873 A19.2 19.2 0 1 0 1068.6 1873 A19.2 19.2 0 1 0 1030.2 1873 Z " fill="#fcfcfc" fill-rule="evenodd"/>
<path d="M1002.3 1089.2 V1970.5" fill="none" stroke="#c4c4c4" stroke-width="1"/>
<path d="M1001.8 1970 H1626.2" fill="none" stroke="#c8c8c8" stroke-width="1"/>
<path d="M1625.7 1089.2 V1970.5" fill="none" stroke="#c4c4c4" stroke-width="1"/>
<path d="M1001.8 1089.7 H1626.2" fill="none" stroke="#b4b4b4" stroke-width="1"/>
<path d="M1030.2 1188.9 A19.2 19.2 0 1 0 1068.6 1188.9 A19.2 19.2 0 1 0 1030.2 1188.9 Z M1030.2 1302.8 A19.2 19.2 0 1 0 1068.6 1302.8 A19.2 19.2 0 1 0 1030.2 1302.8 Z M1030.2 1416.7 A19.2 19.2 0 1 0 1068.6 1416.7 A19.2 19.2 0 1 0 1030.2 1416.7 Z M1030.2 1645.1 A19.2 19.2 0 1 0 1068.6 1645.1 A19.2 19.2 0 1 0 1030.2 1645.1 Z M1030.2 1759 A19.2 19.2 0 1 0 1068.6 1759 A19.2 19.2 0 1 0 1030.2 1759 Z M1030.2 1873 A19.2 19.2 0 1 0 1068.6 1873 A19.2 19.2 0 1 0 1030.2 1873 Z " fill="none" stroke="#686868" stroke-width="1.1" stroke-linejoin="round"/>
<text class="t b" x="1102.4" y="1131.5">A6:</text>
<text class="t" x="1101.4" y="1162.3">4.1″ x 5.8″</text>
</g>
<g id="sheet9">
<rect x="1119.2" y="1210.8" width="567.4" height="835.5" fill="#000" opacity="0.04" filter="url(#am)"/>
<path d="M1121.2 1209.8 L1688.6 1209.8 L1688.6 2024.8 L1121.2 2024.8 Z M1141.9 1301.1 A16.5 16.5 0 1 0 1174.9 1301.1 A16.5 16.5 0 1 0 1141.9 1301.1 Z M1141.9 1434 A16.5 16.5 0 1 0 1174.9 1434 A16.5 16.5 0 1 0 1141.9 1434 Z M1141.9 1567 A16.5 16.5 0 1 0 1174.9 1567 A16.5 16.5 0 1 0 1141.9 1567 Z M1141.9 1700 A16.5 16.5 0 1 0 1174.9 1700 A16.5 16.5 0 1 0 1141.9 1700 Z M1141.9 1833 A16.5 16.5 0 1 0 1174.9 1833 A16.5 16.5 0 1 0 1141.9 1833 Z M1141.9 1957.2 A16.5 16.5 0 1 0 1174.9 1957.2 A16.5 16.5 0 1 0 1141.9 1957.2 Z " transform="translate(-32 0)" fill="#000" fill-rule="evenodd" opacity="0.11" filter="url(#sh)"/>
<path d="M1121.2 1208.8 L1688.6 1208.8 L1688.6 2041.8 L1121.2 2041.8 Z M1141.9 1301.1 A16.5 16.5 0 1 0 1174.9 1301.1 A16.5 16.5 0 1 0 1141.9 1301.1 Z M1141.9 1434 A16.5 16.5 0 1 0 1174.9 1434 A16.5 16.5 0 1 0 1141.9 1434 Z M1141.9 1567 A16.5 16.5 0 1 0 1174.9 1567 A16.5 16.5 0 1 0 1141.9 1567 Z M1141.9 1700 A16.5 16.5 0 1 0 1174.9 1700 A16.5 16.5 0 1 0 1141.9 1700 Z M1141.9 1833 A16.5 16.5 0 1 0 1174.9 1833 A16.5 16.5 0 1 0 1141.9 1833 Z M1141.9 1957.2 A16.5 16.5 0 1 0 1174.9 1957.2 A16.5 16.5 0 1 0 1141.9 1957.2 Z " fill="#ffffff" fill-rule="evenodd"/>
<path d="M1121.7 1208.8 V2041.8" fill="none" stroke="#e0e0e0" stroke-width="1"/>
<path d="M1121.2 2041.3 H1688.6" fill="none" stroke="#c8c8c8" stroke-width="1"/>
<path d="M1688.1 1208.8 V2041.8" fill="none" stroke="#c8c8c8" stroke-width="1"/>
<path d="M1121.2 1209.3 H1688.6" fill="none" stroke="#d4d4d4" stroke-width="1"/>
<path d="M1141.9 1301.1 A16.5 16.5 0 1 0 1174.9 1301.1 A16.5 16.5 0 1 0 1141.9 1301.1 Z M1141.9 1434 A16.5 16.5 0 1 0 1174.9 1434 A16.5 16.5 0 1 0 1141.9 1434 Z M1141.9 1567 A16.5 16.5 0 1 0 1174.9 1567 A16.5 16.5 0 1 0 1141.9 1567 Z M1141.9 1700 A16.5 16.5 0 1 0 1174.9 1700 A16.5 16.5 0 1 0 1141.9 1700 Z M1141.9 1833 A16.5 16.5 0 1 0 1174.9 1833 A16.5 16.5 0 1 0 1141.9 1833 Z M1141.9 1957.2 A16.5 16.5 0 1 0 1174.9 1957.2 A16.5 16.5 0 1 0 1141.9 1957.2 Z " fill="none" stroke="#686868" stroke-width="1.1" stroke-linejoin="round"/>
<text class="t b" x="1195.4" y="1252">Pocket:</text>
<text class="t" x="1194.9" y="1283.6">3.2″ x 4.7″</text>
</g>
<g id="callouts">
<line x1="204.9" y1="1533.3" x2="204.9" y2="1730" stroke="#1c1c1c" stroke-width="2"/>
<circle cx="204.9" cy="1533.3" r="8" fill="#1f1d1e"/>
<text class="l" x="137.2" y="1772.5">9-Disc</text>
<line x1="318.2" y1="1533" x2="318.2" y2="1776.5" stroke="#1c1c1c" stroke-width="2"/>
<circle cx="318.2" cy="1533" r="8" fill="#1f1d1e"/>
<text class="l" x="254.2" y="1820">8-Disc</text>
<line x1="442.2" y1="1533.1" x2="442.2" y2="1830" stroke="#1c1c1c" stroke-width="2"/>
<circle cx="442.2" cy="1533.1" r="8" fill="#1f1d1e"/>
<text class="l" x="383.5" y="1873.1">6-Ring</text>
<line x1="553.6" y1="1575.4" x2="553.6" y2="1874.7" stroke="#1c1c1c" stroke-width="2"/>
<circle cx="553.6" cy="1575.4" r="8" fill="#1f1d1e"/>
<text class="l" x="495" y="1920.2">7-Disc</text>
<line x1="682.4" y1="1628.8" x2="682.4" y2="1928" stroke="#1c1c1c" stroke-width="2"/>
<circle cx="682.4" cy="1628.8" r="8" fill="#1f1d1e"/>
<text class="l" x="620.4" y="1968.7">6-Ring</text>
<line x1="799.8" y1="1748.7" x2="799.8" y2="1977.9" stroke="#1c1c1c" stroke-width="2"/>
<circle cx="799.8" cy="1748.7" r="8" fill="#1f1d1e"/>
<text class="l" x="734.1" y="2017.5">6-Ring</text>
<line x1="910.5" y1="1846.9" x2="910.5" y2="2022" stroke="#1c1c1c" stroke-width="2"/>
<circle cx="910.5" cy="1846.9" r="8" fill="#1f1d1e"/>
<text class="l" x="839.8" y="2063.6">6-Disc</text>
<line x1="1045.6" y1="1923.5" x2="1045.6" y2="2076.5" stroke="#1c1c1c" stroke-width="2"/>
<circle cx="1045.6" cy="1923.5" r="8" fill="#1f1d1e"/>
<text class="l" x="980.6" y="2119.1">6-Ring</text>
<line x1="1154" y1="2010.3" x2="1154" y2="2121.2" stroke="#1c1c1c" stroke-width="2"/>
<circle cx="1154" cy="2010.3" r="8" fill="#1f1d1e"/>
<text class="l" x="1087.8" y="2165.2">6-Ring</text>
</g>
<rect x="1.5" y="1.5" width="1797" height="2397" fill="none" stroke="#f0f0f0" stroke-width="1"/>
<rect x="0.5" y="0.5" width="1799" height="2399" fill="none" stroke="#9a9a9a" stroke-width="1"/>
<rect x="0" y="0" width="1" height="1" fill="#5a5a5a"/>
<rect x="1799" y="0" width="1" height="1" fill="#5a5a5a"/>
<rect x="0" y="2399" width="1" height="1" fill="#5a5a5a"/>
<rect x="1799" y="2399" width="1" height="1" fill="#5a5a5a"/>
</svg>
</body></html>
